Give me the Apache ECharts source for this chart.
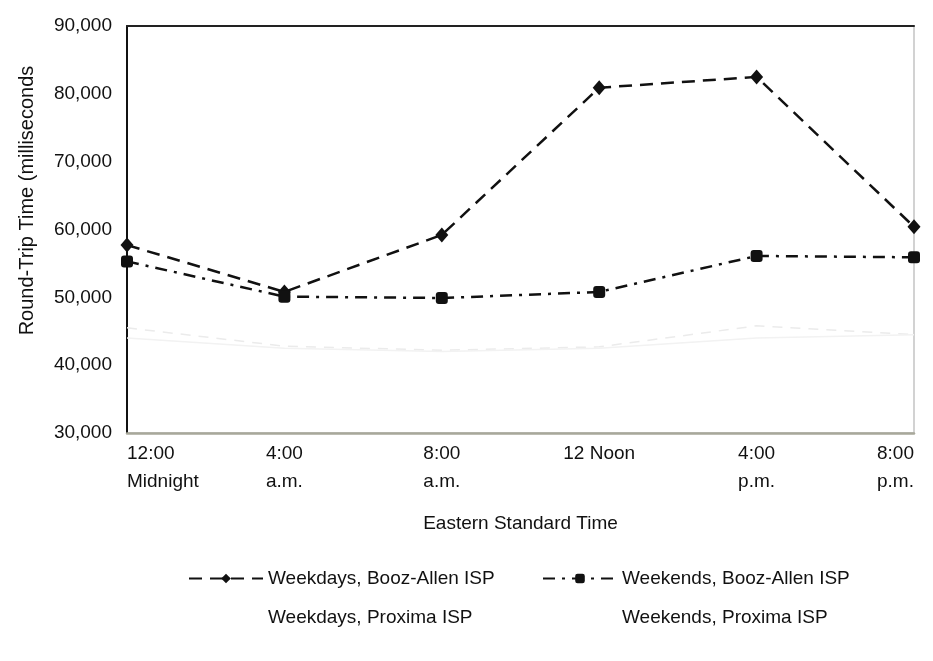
<!DOCTYPE html>
<html>
<head>
<meta charset="utf-8">
<script src="https://cdn.jsdelivr.net/npm/echarts@6/dist/echarts.min.js"></script>
<style>
html,body{margin:0;padding:0;background:#fff;}
#chart{width:933px;height:661px;}
</style>
</head>
<body>
<div id="chart"></div>
<script>
const categories = ['12:00 Midnight', '4:00 a.m.', '8:00 a.m.', '12 Noon', '4:00 p.m.', '8:00 p.m.'];
const tickTop = ['12:00', '4:00', '8:00', '12 Noon', '4:00', '8:00'];
const tickBottom = ['Midnight', 'a.m.', 'a.m.', '', 'p.m.', 'p.m.'];
const weekdaysBooz = [57700, 50800, 59200, 80900, 82500, 60400];
const weekendsBooz = [55300, 50100, 49900, 50800, 56100, 55900];
const weekdaysProxima = [45500, 42800, 42200, 42700, 45800, 44500];
const weekendsProxima = [44000, 42500, 42000, 42500, 44000, 44500];
const seriesNames = ['Weekdays, Booz-Allen ISP', 'Weekends, Booz-Allen ISP', 'Weekdays, Proxima ISP', 'Weekends, Proxima ISP'];

const FONT = '"Liberation Sans", Arial, Helvetica, sans-serif';
const chart = echarts.init(document.getElementById('chart'), null, {renderer: 'canvas'});

const option = {
  backgroundColor: '#ffffff',
  animation: false,
  textStyle: {fontFamily: FONT, color: '#111'},
  grid: {left: 127, right: 19, top: 26, bottom: 228, show: true, borderColor: '#c4c4c4', borderWidth: 1.5},
  legend: [
    {
      data: [seriesNames[0], {name: seriesNames[2], icon: 'none'}],
      orient: 'vertical', left: 183, top: 564,
      itemWidth: 74, itemHeight: 12, itemGap: 20,
      textStyle: {fontFamily: FONT, fontSize: 19, color: '#111'}
    },
    {
      data: [seriesNames[1], {name: seriesNames[3], icon: 'none'}],
      orient: 'vertical', left: 537, top: 564,
      itemWidth: 74, itemHeight: 12, itemGap: 20,
      textStyle: {fontFamily: FONT, fontSize: 19, color: '#111'}
    }
  ],
  xAxis: [
    {
      type: 'category', data: categories, boundaryGap: false, position: 'bottom',
      name: 'Eastern Standard Time', nameLocation: 'middle', nameGap: 81,
      nameTextStyle: {fontFamily: FONT, fontSize: 19, color: '#111'},
      axisLine: {show: true, lineStyle: {color: '#a8a89a', width: 2.5}},
      axisTick: {show: false},
      splitLine: {show: false},
      axisLabel: {
        margin: 7, interval: 0,
        alignMinLabel: 'left', alignMaxLabel: 'right',
        formatter: function (v, i) {
          return tickBottom[i] ? '{a|' + tickTop[i] + '}\n{a|' + tickBottom[i] + '}' : '{a|' + tickTop[i] + '}';
        },
        rich: {a: {fontFamily: FONT, fontSize: 19, lineHeight: 28, color: '#111', align: 'left'}}
      }
    },
    {
      type: 'category', data: categories, boundaryGap: false, position: 'top',
      axisLine: {show: true, lineStyle: {color: '#222', width: 2}},
      axisTick: {show: false}, axisLabel: {show: false}, splitLine: {show: false}
    }
  ],
  yAxis: {
    type: 'value', min: 30000, max: 90000, interval: 10000,
    name: 'Round-Trip Time (milliseconds', nameLocation: 'middle', nameRotate: 90, nameGap: 90,
    nameTextStyle: {fontFamily: FONT, fontSize: 20, color: '#111', padding: [0, 0, 0, 58]},
    axisLine: {show: true, lineStyle: {color: '#111', width: 2}},
    axisTick: {show: false},
    splitLine: {show: false},
    axisLabel: {margin: 15, fontFamily: FONT, fontSize: 19, color: '#111', padding: [0, 0, 10, 0]}
  },
  series: [
    {
      name: seriesNames[0], type: 'line', data: weekdaysBooz,
      symbol: 'diamond', symbolSize: [13, 15], z: 4,
      lineStyle: {color: '#111', width: 2.5, type: [13, 8]},
      itemStyle: {color: '#111'}
    },
    {
      name: seriesNames[1], type: 'line', data: weekendsBooz,
      symbol: 'roundRect', symbolSize: 12, z: 4,
      lineStyle: {color: '#111', width: 2.5, type: [12, 7, 3, 7]},
      itemStyle: {color: '#111'}
    },
    {
      name: seriesNames[2], type: 'line', data: weekdaysProxima,
      symbol: 'none', z: 2,
      lineStyle: {color: '#ebebeb', width: 1.5, type: [10, 8]},
      itemStyle: {color: '#ebebeb'}
    },
    {
      name: seriesNames[3], type: 'line', data: weekendsProxima,
      symbol: 'none', z: 2,
      lineStyle: {color: '#f2f2f2', width: 1.5},
      itemStyle: {color: '#f2f2f2'}
    }
  ]
};
chart.setOption(option);
</script>
</body>
</html>
